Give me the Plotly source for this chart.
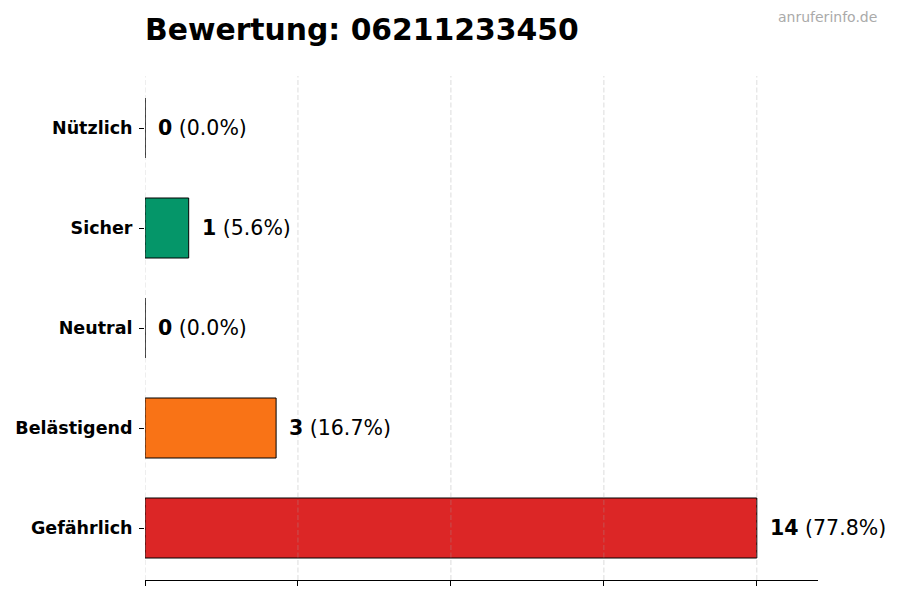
import plotly.graph_objects as go

categories = ["Gefährlich", "Belästigend", "Neutral", "Sicher", "Nützlich"]
counts = [14, 3, 0, 1, 0]
colors = ["#DC2626", "#F97316", "#9CA3AF", "#059669", "#2563EB"]
x_ticks = [0, 3.5, 7, 10.5, 14]
title_text = "Bewertung: 06211233450"
watermark = "anruferinfo.de"

total = sum(counts)
labels = [f"<b>{c}</b> ({c / total * 100:.1f}%)" for c in counts]

FONT = "DejaVu Sans"

fig = go.Figure()
fig.add_trace(go.Bar(
    y=categories, x=counts, orientation="h", width=0.6,
    marker=dict(color=colors, line=dict(color="black", width=1)),
    hoverinfo="skip", showlegend=False,
))

for cat, c, lab in zip(categories, counts, labels):
    fig.add_annotation(x=c, y=cat, text=lab, showarrow=False, xanchor="left",
                       xshift=11, yshift=0, font=dict(family=FONT, size=20.5, color="black"))

for t in x_ticks:
    fig.add_shape(type="line", x0=t, x1=t, y0=0, y1=1, xref="x", yref="paper",
                  line=dict(color="rgba(160,160,160,0.45)", width=0.8, dash="5px,2.5px"), layer="above")

fig.add_annotation(x=1.091, y=1.117, xref="paper", yref="paper", text=watermark,
                   showarrow=False, xanchor="right", yanchor="middle",
                   font=dict(family=FONT, size=14, color="#AAAAAA"))

fig.update_layout(
    width=900, height=600,
    margin=dict(l=137, r=90, t=68, b=28, autoexpand=False),
    plot_bgcolor="white", paper_bgcolor="white",
    title=dict(text=f"<b>{title_text}</b>", x=137 / 900, xanchor="left", xref="container",
               y=1 - 22 / 600, yanchor="middle", yref="container",
               font=dict(family=FONT, size=29.8, color="black")),
    xaxis=dict(range=[0, 15.4], tickvals=x_ticks, showticklabels=False, showgrid=False,
               zeroline=False, showline=True, linecolor="black", linewidth=1.2,
               ticks="outside", ticklen=5, tickcolor="black", tickwidth=1, automargin=False),
    yaxis=dict(categoryorder="array", categoryarray=categories, range=[-0.52, 4.52],
               showgrid=False, zeroline=False, showline=False, ticks="outside", ticklen=5,
               tickcolor="black", tickwidth=1, ticklabelstandoff=3, automargin=False,
               tickfont=dict(family=FONT, size=17.5, color="black", weight="bold")),
    font=dict(family=FONT),
)

fig.write_html("out.html")
